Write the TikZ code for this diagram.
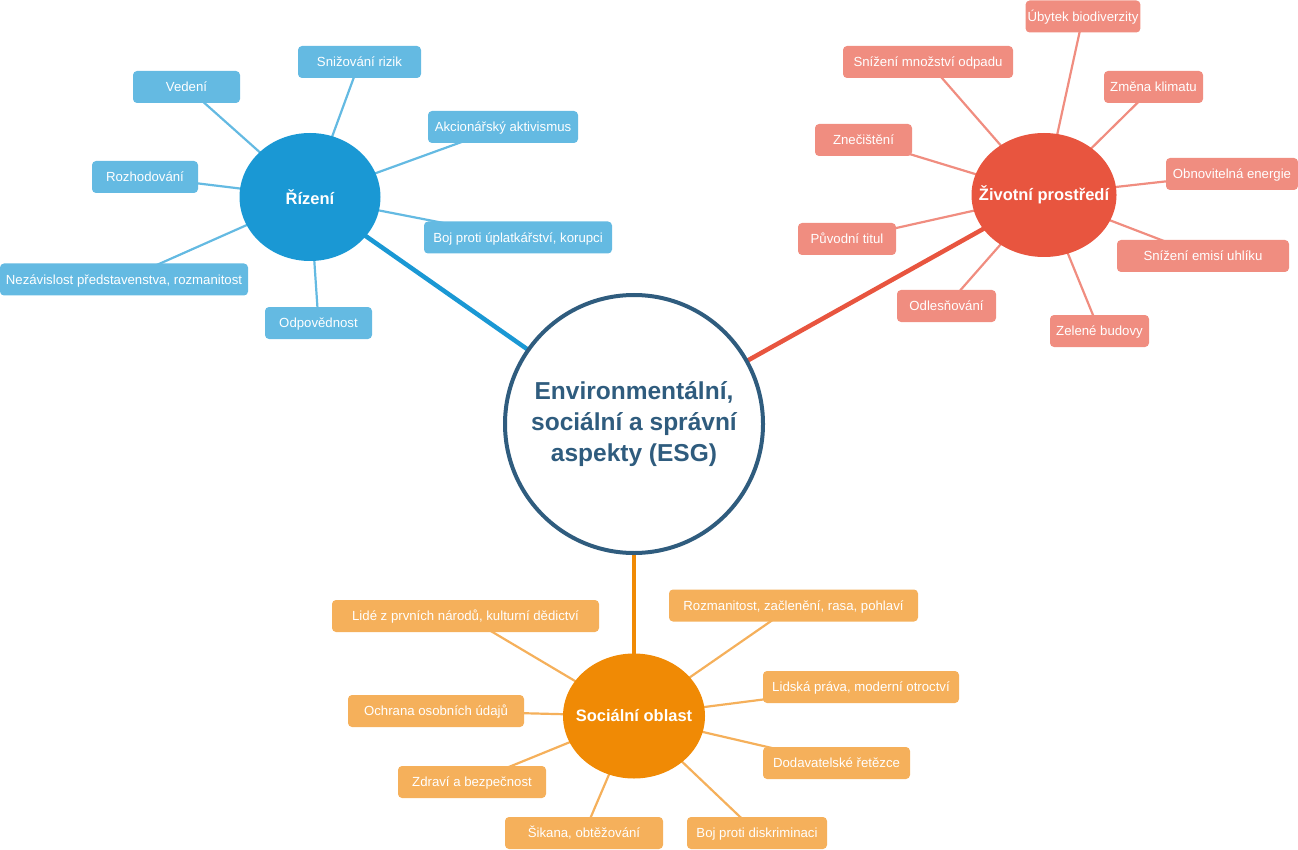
\documentclass[tikz,border=0pt]{standalone}
\usepackage{fontspec}
\setmainfont{Liberation Sans}
\usetikzlibrary{shapes.geometric}
\definecolor{bluedark}{RGB}{26,152,212}
\definecolor{bluelight}{RGB}{100,186,226}
\definecolor{reddark}{RGB}{232,85,63}
\definecolor{redlight}{RGB}{240,141,128}
\definecolor{orangedark}{RGB}{240,138,5}
\definecolor{orangelight}{RGB}{245,176,91}
\definecolor{navy}{RGB}{47,92,126}
\pgfdeclarelayer{bg}
\pgfsetlayers{bg,main}
\tikzset{
  leaf/.style={rectangle, rounded corners=4pt, minimum height=32pt, inner xsep=2pt, inner ysep=0pt,
    text height=9.4pt, text depth=0pt,
    text=white, font=\fontsize{13.2}{15}\selectfont},
  bleaf/.style={leaf, fill=bluelight},
  rleaf/.style={leaf, fill=redlight},
  oleaf/.style={leaf, fill=orangelight},
  hub/.style={ellipse, inner sep=0pt, text=white, font=\bfseries\fontsize{16.5}{19}\selectfont},
  core/.style={circle, draw=navy, line width=4pt, fill=white, minimum size=258pt, inner sep=0pt,
    text=navy, align=center, font=\bfseries\fontsize{24.5}{31}\selectfont},
  thin/.style={line width=2.2pt},
  thick/.style={line width=4.5pt}
}
\begin{document}
\begin{tikzpicture}[x=1pt,y=-1pt]
\useasboundingbox (0,0) rectangle (1298,850);
% core
\node[core] (esg) at (634,424) {Environmentální,\\sociální a správní\\aspekty (ESG)};
% hubs
\node[hub, fill=bluedark, minimum width=141pt, minimum height=128pt] (riz) at (310,197) {\makebox[0pt]{Řízení}};
\node[hub, fill=reddark, minimum width=145pt, minimum height=124pt] (zp) at (1044,195) {\makebox[0pt]{Životní prostředí}};
\node[hub, fill=orangedark, minimum width=142pt, minimum height=125pt] (so) at (634,716) {\makebox[0pt]{Sociální oblast}};
% blue leaves
\node[bleaf, minimum width=123pt] (b1) at (359.5,62) {Snižování rizik};
\node[bleaf, minimum width=107pt] (b2) at (186.5,87) {Vedení};
\node[bleaf, minimum width=150pt] (b3) at (503,127) {Akcionářský aktivismus};
\node[bleaf, minimum width=106pt] (b4) at (145,177) {Rozhodování};
\node[bleaf, minimum width=188pt] (b5) at (518,237.5) {Boj proti úplatkářství, korupci};
\node[bleaf, minimum width=248pt] (b6) at (124,279.5) {Nezávislost představenstva, rozmanitost};
\node[bleaf, minimum width=107pt] (b7) at (318.5,323) {Odpovědnost};
% red leaves
\node[rleaf, minimum width=114pt] (r1) at (1083,16.5) {Úbytek biodiverzity};
\node[rleaf, minimum width=170pt] (r2) at (928,62) {Snížení množství odpadu};
\node[rleaf, minimum width=99pt] (r3) at (1153.5,87) {Změna klimatu};
\node[rleaf, minimum width=97pt] (r4) at (863.5,140) {Znečištění};
\node[rleaf, minimum width=132pt] (r5) at (1232,174) {Obnovitelná energie};
\node[rleaf, minimum width=98pt] (r6) at (847,239) {Původní titul};
\node[rleaf, minimum width=172pt] (r7) at (1203,256) {Snížení emisí uhlíku};
\node[rleaf, minimum width=99pt] (r8) at (946.5,306) {Odlesňování};
\node[rleaf, minimum width=99pt] (r9) at (1099.5,331) {Zelené budovy};
% orange leaves
\node[oleaf, minimum width=267pt] (o1) at (465.5,616) {Lidé z prvních národů, kulturní dědictví};
\node[oleaf, minimum width=249pt] (o2) at (793.5,605.5) {Rozmanitost, začlenění, rasa, pohlaví};
\node[oleaf, minimum width=196pt] (o3) at (861,687) {Lidská práva, moderní otroctví};
\node[oleaf, minimum width=176pt] (o4) at (436,711) {Ochrana osobních údajů};
\node[oleaf, minimum width=147pt] (o5) at (836.5,763) {Dodavatelské řetězce};
\node[oleaf, minimum width=148pt] (o6) at (472,782) {Zdraví a bezpečnost};
\node[oleaf, minimum width=158pt] (o7) at (584,833) {Šikana, obtěžování};
\node[oleaf, minimum width=140pt] (o8) at (757,833) {Boj proti diskriminaci};
% connectors
\begin{pgfonlayer}{bg}
\draw[thick, bluedark] (riz.center) -- (esg.center);
\draw[thick, reddark] (zp.center) -- (esg.center);
\draw[thick, orangedark] (so.center) -- (esg.center);
\foreach \n in {b1,b2,b3,b4,b5,b6,b7} \draw[thin, bluelight] (riz.center) -- (\n.center);
\foreach \n in {r1,r2,r3,r4,r5,r6,r7,r8,r9} \draw[thin, redlight] (zp.center) -- (\n.center);
\foreach \n in {o1,o2,o3,o4,o5,o6,o7,o8} \draw[thin, orangelight] (so.center) -- (\n.center);
\end{pgfonlayer}
\end{tikzpicture}
\end{document}
